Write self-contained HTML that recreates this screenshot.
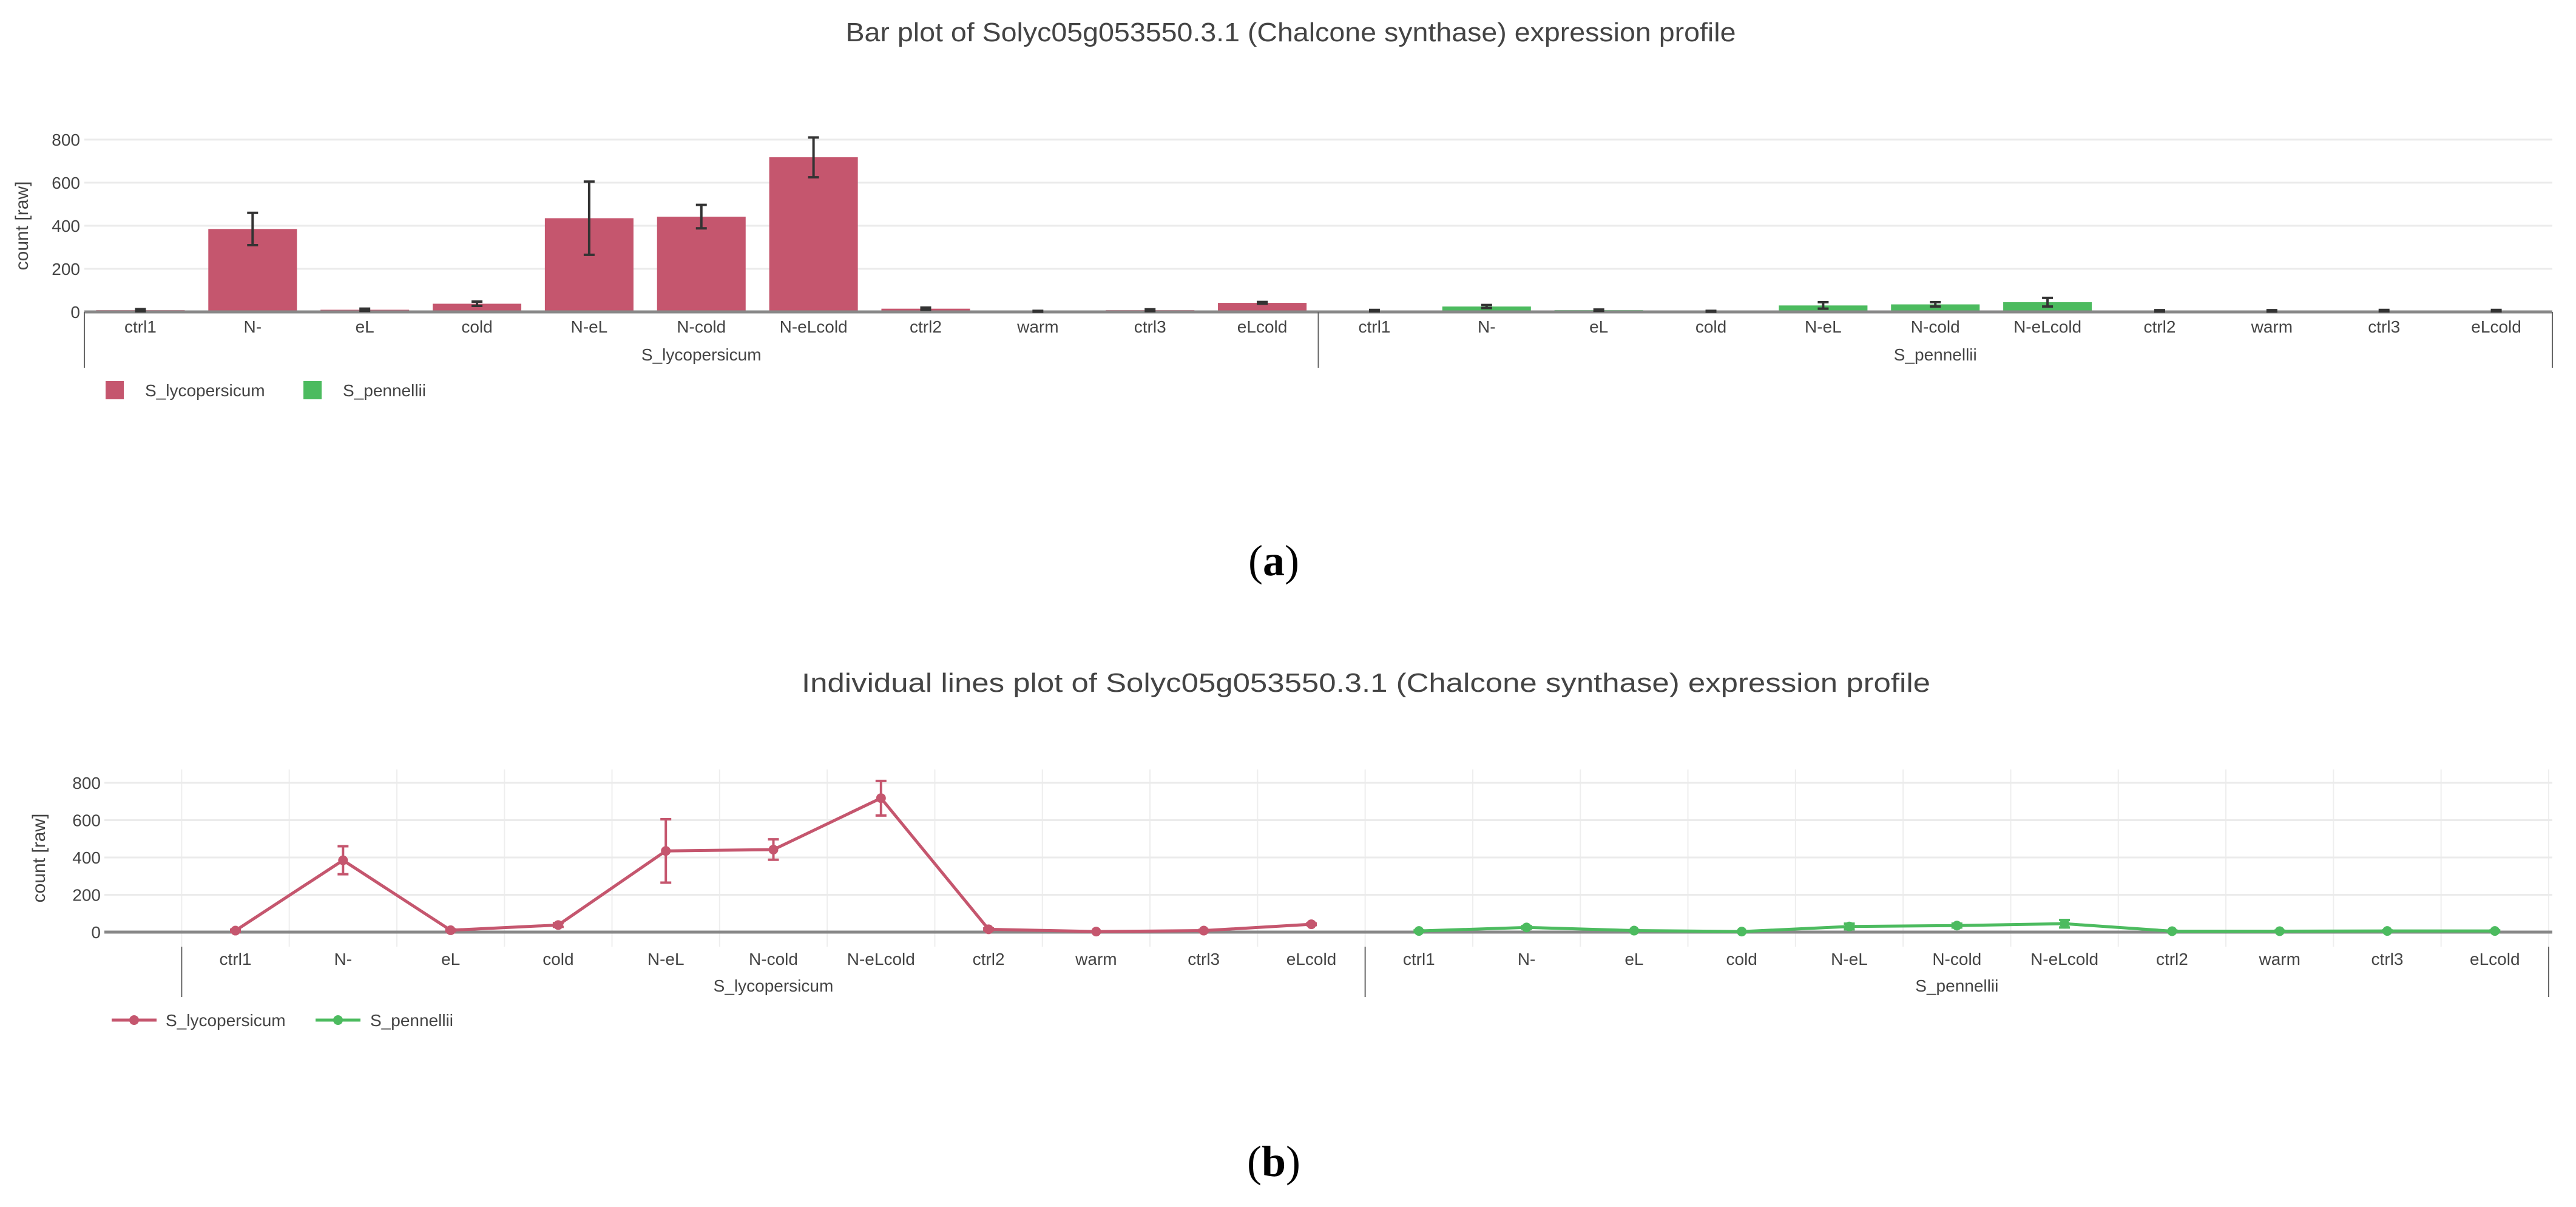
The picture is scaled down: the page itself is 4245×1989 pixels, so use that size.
<!DOCTYPE html>
<html><head><meta charset="utf-8">
<style>
html,body{margin:0;padding:0;background:#fff;}
svg{display:block;font-family:"Liberation Sans",sans-serif;}
</style></head>
<body>
<svg id="fig" width="4245" height="1989" viewBox="0 0 4245 1989" xmlns="http://www.w3.org/2000/svg">
<rect width="4245" height="1989" fill="#fff"/>
<text x="2127" y="68" text-anchor="middle" font-size="44" fill="#444" textLength="1467" lengthAdjust="spacingAndGlyphs">Bar plot of Solyc05g053550.3.1 (Chalcone synthase) expression profile</text>
<text x="2099" y="948" text-anchor="middle" font-size="72" font-family="Liberation Serif, serif" fill="#000">(<tspan font-weight="bold">a</tspan>)</text>
<text x="2251" y="1140" text-anchor="middle" font-size="44" fill="#444" textLength="1860" lengthAdjust="spacingAndGlyphs">Individual lines plot of Solyc05g053550.3.1 (Chalcone synthase) expression profile</text>
<text x="2099" y="1938" text-anchor="middle" font-size="72" font-family="Liberation Serif, serif" fill="#000">(<tspan font-weight="bold">b</tspan>)</text>
<g id="barChart"></g>
<g id="lineChart"></g>
</svg>
<script>
const categories = ["ctrl1","N-","eL","cold","N-eL","N-cold","N-eLcold","ctrl2","warm","ctrl3","eLcold"];
const groups = ["S_lycopersicum","S_pennellii"];
const lycoValues = [8,385,10,38,435,442,718,15,3,8,42];
const lycoErrLow = [3,310,5,28,265,388,625,10,1,4,38];
const lycoErrHigh = [13,460,15,48,605,497,810,20,5,12,46];
const penValues = [6,25,8,3,30,35,45,5,5,6,6];
const penErrLow = [3,18,5,1,15,25,25,2,2,3,3];
const penErrHigh = [9,32,11,5,45,45,65,8,8,9,9];
const yTicks = [0,200,400,600,800];
const RED = "#c5566e", GREEN = "#4cbb5f";
const NS = "http://www.w3.org/2000/svg";
function mk(parent, tag, attrs, text){
  const e = document.createElementNS(NS, tag);
  for (const k in attrs) e.setAttribute(k, attrs[k]);
  if (text !== undefined) e.textContent = text;
  parent.appendChild(e);
  return e;
}
const series = [
  {name: groups[0], vals: lycoValues, lo: lycoErrLow, hi: lycoErrHigh, color: RED},
  {name: groups[1], vals: penValues, lo: penErrLow, hi: penErrHigh, color: GREEN}
];

// ---------- Bar chart ----------
(function(){
  const g = document.getElementById('barChart');
  const x0 = 139, x1 = 4206, yZero = 514, yTop = 230;
  const n = categories.length * groups.length;
  const step = (x1 - x0) / n;
  const y = v => yZero - (v / 800) * (yZero - yTop);
  const xc = i => x0 + step * (i + 0.5);
  yTicks.forEach(t => {
    if (t > 0) {
      const gl = mk(g, 'line', {x1: x0, x2: x1, y1: y(t), y2: y(t), stroke: '#ebebeb', 'stroke-width': 3});
      
      
    }
    const tl = mk(g, 'text', {x: 132, y: y(t) + 10, 'text-anchor': 'end', 'font-size': 28, fill: '#444'}, String(t));
    
    
  });
  const yt = mk(g, 'text', {x: 0, y: 0, transform: 'translate(46,372) rotate(-90)', 'text-anchor': 'middle', 'font-size': 30, fill: '#444'}, 'count [raw]');
  
  
  series.forEach((s, si) => {
    s.vals.forEach((v, ci) => {
      const i = si * categories.length + ci;
      const bw = step * 0.79;
      const b = mk(g, 'rect', {x: xc(i) - bw / 2, y: y(v), width: bw, height: yZero - y(v), fill: s.color});
      
      
    });
  });
  const zl = mk(g, 'line', {x1: x0, x2: x1, y1: yZero, y2: yZero, stroke: '#888', 'stroke-width': 5});
  
  
  series.forEach((s, si) => {
    s.vals.forEach((v, ci) => {
      const i = si * categories.length + ci, cx = xc(i);
      const e = mk(g, 'path', {d: `M${cx},${y(s.lo[ci])}V${y(s.hi[ci])}M${cx-9},${y(s.lo[ci])}h18M${cx-9},${y(s.hi[ci])}h18`, stroke: '#333', 'stroke-width': 4, fill: 'none'});
      
      
    });
  });
  categories.concat(categories).forEach((c, i) => {
    const t = mk(g, 'text', {x: xc(i), y: 548, 'text-anchor': 'middle', 'font-size': 28, fill: '#444'}, c);
    
    
  });
  groups.forEach((gr, gi) => {
    const xa = x0 + gi * categories.length * step;
    const t = mk(g, 'text', {x: xa + categories.length * step / 2, y: 594, 'text-anchor': 'middle', 'font-size': 28, fill: '#444'}, gr);
    
    
  });
  [0, 1, 2].forEach(k => {
    const xx = x0 + k * categories.length * step;
    const d = mk(g, 'line', {x1: xx, x2: xx, y1: 514, y2: 606, stroke: '#666', 'stroke-width': 2});
    
    
  });
  series.forEach((s, si) => {
    const lx = [174, 500][si], tx = [239, 565][si];
    const r = mk(g, 'rect', {x: lx, y: 628, width: 30, height: 30, fill: s.color});
    
    
    const t = mk(g, 'text', {x: tx, y: 653, 'font-size': 28, fill: '#444'}, s.name);
    
    
  });
})();

// ---------- Line chart ----------
(function(){
  const g = document.getElementById('lineChart');
  const xl = 172, x1 = 4206, yZero = 1536, yTop = 1290;
  const first = 388, step = 177.3;
  const y = v => yZero - (v / 800) * (yZero - yTop);
  const xc = i => first + step * i;
  const n = categories.length * groups.length;
  for (let k = 0; k <= n; k++) {
    const xx = xc(k) - step / 2;
    const gl = mk(g, 'line', {x1: xx, x2: xx, y1: 1268, y2: 1560, stroke: '#eeeeee', 'stroke-width': 2});
    
    
  }
  yTicks.forEach(t => {
    if (t > 0) {
      const gl = mk(g, 'line', {x1: xl, x2: x1, y1: y(t), y2: y(t), stroke: '#ebebeb', 'stroke-width': 3});
      
      
    }
    const tl = mk(g, 'text', {x: 166, y: y(t) + 10, 'text-anchor': 'end', 'font-size': 28, fill: '#444'}, String(t));
    
    
  });
  const yt = mk(g, 'text', {x: 0, y: 0, transform: 'translate(74,1414) rotate(-90)', 'text-anchor': 'middle', 'font-size': 30, fill: '#444'}, 'count [raw]');
  
  
  const zl = mk(g, 'line', {x1: xl, x2: x1, y1: yZero, y2: yZero, stroke: '#888', 'stroke-width': 5});
  
  
  series.forEach((s, si) => {
    const pts = s.vals.map((v, ci) => [xc(si * categories.length + ci), y(v)]);
    const pl = mk(g, 'polyline', {points: pts.map(p => p.join(',')).join(' '), fill: 'none', stroke: s.color, 'stroke-width': 5, 'stroke-linejoin': 'round'});
    
    
    s.vals.forEach((v, ci) => {
      const cx = xc(si * categories.length + ci);
      const e = mk(g, 'path', {d: `M${cx},${y(s.lo[ci])}V${y(s.hi[ci])}M${cx-9},${y(s.lo[ci])}h18M${cx-9},${y(s.hi[ci])}h18`, stroke: s.color, 'stroke-width': 4, fill: 'none'});
      
      
      const c = mk(g, 'circle', {cx: cx, cy: y(v), r: 8, fill: s.color});
      
      
    });
  });
  categories.concat(categories).forEach((c, i) => {
    const t = mk(g, 'text', {x: xc(i), y: 1590, 'text-anchor': 'middle', 'font-size': 28, fill: '#444'}, c);
    
    
  });
  groups.forEach((gr, gi) => {
    const xa = xc(gi * categories.length) - step / 2;
    const t = mk(g, 'text', {x: xa + categories.length * step / 2, y: 1634, 'text-anchor': 'middle', 'font-size': 28, fill: '#444'}, gr);
    
    
  });
  [0, 1, 2].forEach(k => {
    const xx = xc(k * categories.length) - step / 2;
    const d = mk(g, 'line', {x1: xx, x2: xx, y1: 1560, y2: 1643, stroke: '#666', 'stroke-width': 2});
    
    
  });
  series.forEach((s, si) => {
    const lx = [184, 520][si], tx = [273, 610][si];
    const l = mk(g, 'line', {x1: lx, x2: lx + 74, y1: 1681, y2: 1681, stroke: s.color, 'stroke-width': 5});
    
    
    const c = mk(g, 'circle', {cx: lx + 37, cy: 1681, r: 8, fill: s.color});
    
    
    const t = mk(g, 'text', {x: tx, y: 1691, 'font-size': 28, fill: '#444'}, s.name);
    
    
  });
})();
</script>
</body></html>
